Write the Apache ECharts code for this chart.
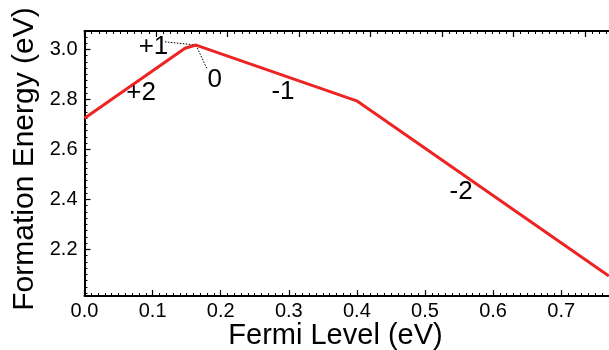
<!DOCTYPE html>
<html>
<head>
<meta charset="utf-8">
<script src="https://cdn.jsdelivr.net/npm/echarts@6/dist/echarts.min.js"></script>
<style>
  html, body { margin: 0; padding: 0; background: #fff; }
  #chart { width: 609px; height: 350px; }
</style>
</head>
<body>
<div id="chart"></div>
<script>
// Formation energy vs Fermi level: piecewise-linear lower envelope
const fermiLevel = [0.0, 0.1476, 0.1637, 0.3997, 0.770];
const formationEnergy = [2.724, 3.004, 3.017, 2.794, 2.093];

// Charge-state labels placed in data coordinates
const chargeLabels = ['+1', '0', '+2', '-1', '-2'];
const chargeLabelX = [0.1013, 0.1912, 0.083, 0.2915, 0.553];
const chargeLabelY = [3.009, 2.877, 2.827, 2.828, 2.430];

// Dotted leader lines from the transition point to the +1 and 0 labels
const leaderPlus1 = [[0.118, 3.030], [0.1637, 3.017]];
const leaderZero = [[0.1795, 2.924], [0.1637, 3.017]];

// Axis ticks
const xTicks = [0.0, 0.1, 0.2, 0.3, 0.4, 0.5, 0.6, 0.7];
const yTicks = [2.2, 2.4, 2.6, 2.8, 3.0];

const X_MIN = 0, X_MAX = 0.7702;
const Y_MIN = 2.0132, Y_MAX = 3.0732;
const TOP_MAX = 7.336;

function steps(from, to, step) {
  const out = [];
  for (let i = 0; from + i * step <= to + 1e-9; i++) out.push(+(from + i * step).toFixed(4));
  return out;
}
const xMinor = steps(0, X_MAX, 0.01);
const yMinor = steps(2.025, Y_MAX, 0.025);
const topMajor = steps(0, TOP_MAX, 1);
const topMinor = steps(0, TOP_MAX, 0.1);

const FONT = '"Liberation Sans", Arial, Helvetica, sans-serif';
const INK = '#000';

function plainAxis(extra) {
  return Object.assign({
    type: 'value',
    splitLine: { show: false },
    axisLine: { show: false },
    axisLabel: { show: false },
    axisTick: { show: false }
  }, extra);
}

const chart = echarts.init(document.getElementById('chart'), null, { renderer: 'canvas' });

chart.setOption({
  animation: false,
  backgroundColor: '#fff',
  grid: { left: 84.5, top: 31, right: 0, bottom: 54, containLabel: false },
  xAxis: [
    plainAxis({
      position: 'bottom', min: X_MIN, max: X_MAX,
      axisLine: { show: true, onZero: false, lineStyle: { color: INK, width: 2 } },
      axisTick: { show: true, inside: true, length: 6, customValues: xTicks, lineStyle: { color: INK, width: 1.2 } },
      axisLabel: {
        show: true, customValues: xTicks, margin: 5,
        color: INK, fontFamily: FONT, fontSize: 20,
        formatter: v => v.toFixed(1)
      }
    }),
    plainAxis({
      position: 'bottom', min: X_MIN, max: X_MAX,
      axisTick: { show: true, inside: true, length: 3, customValues: xMinor, lineStyle: { color: INK, width: 1 } }
    }),
    plainAxis({
      position: 'top', min: 0, max: TOP_MAX,
      axisLine: { show: true, onZero: false, lineStyle: { color: INK, width: 2 } },
      axisTick: { show: true, inside: true, length: 6, customValues: topMajor, lineStyle: { color: INK, width: 1.2 } }
    }),
    plainAxis({
      position: 'top', min: 0, max: TOP_MAX,
      axisTick: { show: true, inside: true, length: 3, customValues: topMinor, lineStyle: { color: INK, width: 1 } }
    })
  ],
  yAxis: [
    plainAxis({
      position: 'left', min: Y_MIN, max: Y_MAX,
      axisLine: { show: true, onZero: false, lineStyle: { color: INK, width: 2 } },
      axisTick: { show: true, inside: true, length: 6, customValues: yTicks, lineStyle: { color: INK, width: 1.2 } },
      axisLabel: {
        show: true, customValues: yTicks, margin: 7,
        color: INK, fontFamily: FONT, fontSize: 20,
        formatter: v => v.toFixed(1)
      }
    }),
    plainAxis({
      position: 'left', min: Y_MIN, max: Y_MAX,
      axisTick: { show: true, inside: true, length: 3, customValues: yMinor, lineStyle: { color: INK, width: 1 } }
    })
  ],
  graphic: [
    {
      type: 'text',
      x: 335.5, y: 336,
      style: {
        text: 'Fermi Level (eV)', fontFamily: FONT, fontSize: 29, fill: INK,
        align: 'center', verticalAlign: 'middle'
      }
    },
    {
      type: 'text',
      x: 25, y: 159, rotation: Math.PI / 2,
      style: {
        text: 'Formation Energy (eV)', fontFamily: FONT, fontSize: 30, fill: INK,
        align: 'center', verticalAlign: 'middle'
      }
    }
  ],
  series: [
    {
      type: 'line', xAxisIndex: 0, yAxisIndex: 0,
      data: fermiLevel.map((x, i) => [x, formationEnergy[i]]),
      symbol: 'none', clip: false,
      lineStyle: { color: '#ee2424', width: 3 },
      z: 3
    },
    {
      type: 'line', xAxisIndex: 0, yAxisIndex: 0,
      data: leaderPlus1, symbol: 'none',
      lineStyle: { color: INK, width: 1, type: [1.5, 1.5] }, z: 2
    },
    {
      type: 'line', xAxisIndex: 0, yAxisIndex: 0,
      data: leaderZero, symbol: 'none',
      lineStyle: { color: INK, width: 1, type: [1.5, 1.5] }, z: 2
    },
    {
      type: 'scatter', xAxisIndex: 0, yAxisIndex: 0,
      symbolSize: 0,
      itemStyle: { opacity: 1 },
      data: chargeLabels.map((t, i) => ({ name: t, value: [chargeLabelX[i], chargeLabelY[i]] })),
      label: {
        show: true, position: 'inside', formatter: p => p.name,
        color: INK, opacity: 1, fontFamily: FONT, fontSize: 26
      },
      emphasis: { disabled: true },
      z: 4
    }
  ]
});
</script>
</body>
</html>
